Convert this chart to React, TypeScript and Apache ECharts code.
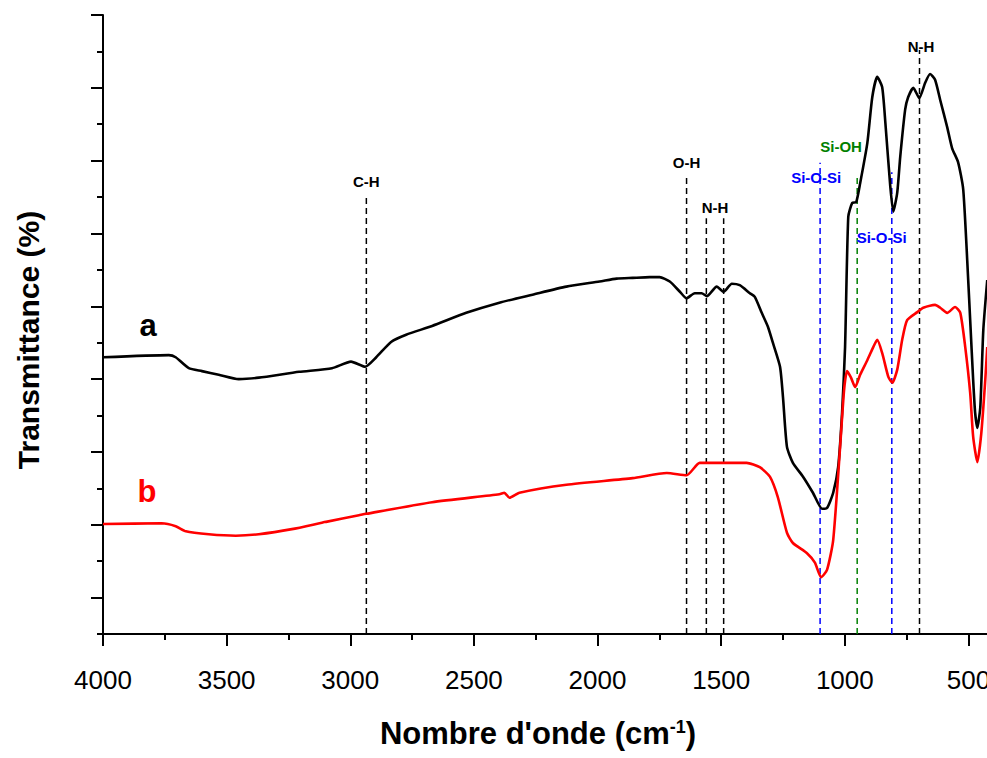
import React, { useEffect, useRef } from "react";
import * as echarts from "echarts";

// ---------- data ----------
// [wavenumber (cm-1), transmittance (arbitrary %)]
const curveA: [number, number][] = [
  [4000, 38.0], [3734, 38.3], [3706, 38.0], [3653, 36.5], [3600, 36.1], [3532, 35.6],
  [3451, 35.0], [3370, 35.2], [3207, 36.0], [3074, 36.5], [2997, 37.4], [2940, 36.7],
  [2895, 38.0], [2835, 40.1], [2774, 41.1], [2669, 42.3], [2531, 44.1], [2397, 45.5],
  [2263, 46.6], [2126, 47.7], [1992, 48.4], [1923, 48.8], [1858, 48.9], [1789, 49.0],
  [1749, 49.0], [1708, 48.4], [1667, 47.0], [1640, 46.1], [1607, 46.8], [1579, 46.8],
  [1558, 46.4], [1518, 47.7], [1490, 47.0], [1457, 48.1], [1425, 47.9], [1384, 46.8],
  [1364, 46.3], [1336, 44.1], [1311, 42.2], [1291, 40.0], [1262, 36.7], [1250, 32.5],
  [1234, 25.7], [1210, 23.5], [1169, 21.6], [1129, 19.4], [1092, 17.2], [1072, 17.3],
  [1047, 19.4], [1027, 22.9], [1011, 30.4], [999, 39.4], [986, 57.3], [970, 59.2],
  [954, 59.3], [938, 61.9], [909, 67.4], [889, 73.7], [869, 76.5], [849, 75.1],
  [836, 70.2], [816, 61.4], [804, 58.0], [788, 60.6], [776, 65.5], [756, 72.0],
  [744, 73.7], [723, 75.0], [699, 73.6], [675, 75.7], [655, 76.9], [635, 76.1],
  [614, 73.3], [586, 69.6], [566, 66.7], [542, 64.8], [521, 61.0], [501, 48.6],
  [493, 43.1], [481, 34.9], [473, 30.4], [464, 28.3], [452, 31.2], [440, 41.7],
  [424, 48.6],
];

const curveB: [number, number][] = [
  [4000, 15.1], [3763, 15.2], [3706, 14.8], [3665, 14.1], [3572, 13.7], [3463, 13.5],
  [3370, 13.7], [3236, 14.4], [3098, 15.4], [2965, 16.3], [2936, 16.5], [2669, 18.1],
  [2397, 19.2], [2377, 19.4], [2356, 18.7], [2316, 19.4], [2126, 20.5], [1858, 21.4],
  [1720, 22.1], [1640, 21.8], [1587, 23.5], [1575, 23.5], [1494, 23.5], [1397, 23.5],
  [1344, 22.9], [1303, 21.6], [1271, 18.8], [1234, 13.9], [1210, 12.5], [1153, 11.1],
  [1121, 9.8], [1096, 7.8], [1072, 8.8], [1047, 12.9], [1019, 25.7], [1003, 33.5],
  [991, 36.1], [975, 35.2], [958, 33.9], [938, 35.6], [909, 37.6], [885, 39.4],
  [869, 40.4], [849, 38.6], [824, 35.3], [808, 34.5], [788, 36.3], [768, 40.4],
  [748, 43.1], [707, 44.2], [683, 44.8], [635, 45.2], [614, 44.8], [586, 44.1],
  [554, 44.9], [533, 44.1], [513, 39.4], [493, 33.1], [481, 27.1], [464, 23.6],
  [448, 27.6], [432, 34.9], [424, 39.4],
];

// vibration bands: wavenumber, top of the dashed marker, group
const bandWavenumbers = [2935, 1640, 1560, 1490, 1100, 950, 810, 698];
const bandTops = [60.3, 62.6, 57.1, 57.1, 64.7, 62.7, 63.4, 80.2];
const bandGroups = ["ch", "oh", "nh", "nh", "sios", "sioh", "sios", "nh"];

// band annotations: text, wavenumber, transmittance, group
const bandLabelTexts = ["C-H", "O-H", "N-H", "Si-O-Si", "Si-OH", "Si-O-Si", "N-H"];
const bandLabelX = [2935, 1640, 1525, 1116, 1015, 851, 692];
const bandLabelY = [62.2, 64.7, 58.6, 62.7, 66.9, 54.5, 80.7];
const bandLabelGroups = ["ch", "oh", "nh", "sios", "sioh", "sios", "nh"];

// sample labels
const sampleNames = ["a", "b"];
const sampleLabelX = [3818, 3822];
const sampleLabelY = [42.4, 19.5];

// axis ticks
const xMajorTicks = [500, 1000, 1500, 2000, 2500, 3000, 3500, 4000];
const xMinorTicks = [750, 1250, 1750, 2250, 2750, 3250, 3750];
const yMajorTicks = [5, 15, 25, 35, 45, 55, 65, 75, 85];
const yMinorTicks = [0, 10, 20, 30, 40, 50, 60, 70, 80];

// ---------- styles ----------
const FONT = "'Liberation Sans', Arial, Helvetica, sans-serif";
const groupColor: Record<string, string> = {
  ch: "#000000",
  oh: "#000000",
  nh: "#000000",
  sios: "#0000ff",
  sioh: "#008000",
};
const sampleColor = ["#000000", "#ff0000"];

export default function App() {
  const ref = useRef<HTMLDivElement>(null);

  useEffect(() => {
    document.body.style.margin = "0";
    if (!ref.current) return;
    const chart = echarts.init(ref.current, undefined, { renderer: "svg" });

    const axisCommon = {
      type: "value" as const,
      splitLine: { show: false },
    };

    const bandSeries = bandWavenumbers.map((w, i) => ({
      type: "line",
      xAxisIndex: 0,
      yAxisIndex: 0,
      symbol: "none",
      silent: true,
      z: 1,
      lineStyle: { color: groupColor[bandGroups[i]], width: 1.5, type: [6, 4] },
      data: [
        [w, 0],
        [w, bandTops[i]],
      ],
    }));

    const option: any = {
      animation: false,
      grid: {
        left: 103,
        right: 0,
        top: 15,
        bottom: 124,
        containLabel: false,
        outerBoundsMode: "none",
      },
      xAxis: [
        {
          ...axisCommon,
          min: 425,
          max: 4000,
          inverse: true,
          position: "bottom",
          axisLine: { show: true, onZero: false, lineStyle: { color: "#000", width: 2 } },
          axisTick: {
            show: true,
            customValues: xMajorTicks,
            length: 12,
            lineStyle: { color: "#000", width: 2 },
          },
          axisLabel: {
            show: true,
            customValues: xMajorTicks,
            margin: 33,
            fontSize: 26,
            color: "#000",
            fontFamily: FONT,
            formatter: (v: number) => String(v),
          },
        },
        {
          ...axisCommon,
          min: 425,
          max: 4000,
          inverse: true,
          position: "bottom",
          axisLine: { show: false, onZero: false },
          axisTick: {
            show: true,
            customValues: xMinorTicks,
            length: 6,
            lineStyle: { color: "#000", width: 2 },
          },
          axisLabel: { show: false },
        },
      ],
      yAxis: [
        {
          ...axisCommon,
          min: 0,
          max: 85,
          position: "left",
          axisLine: { show: true, onZero: false, lineStyle: { color: "#000", width: 2 } },
          axisTick: {
            show: true,
            customValues: yMajorTicks,
            length: 12,
            lineStyle: { color: "#000", width: 2 },
          },
          axisLabel: { show: false },
        },
        {
          ...axisCommon,
          min: 0,
          max: 85,
          position: "left",
          offset: 0,
          axisLine: { show: false, onZero: false },
          axisTick: {
            show: true,
            customValues: yMinorTicks,
            length: 6,
            lineStyle: { color: "#000", width: 2 },
          },
          axisLabel: { show: false },
        },
      ],
      series: [
        ...bandSeries,
        {
          type: "line",
          name: "a",
          xAxisIndex: 0,
          yAxisIndex: 0,
          symbol: "none",
          smooth: 0.2,
          z: 3,
          lineStyle: { color: sampleColor[0], width: 2.6 },
          data: curveA,
        },
        {
          type: "line",
          name: "b",
          xAxisIndex: 0,
          yAxisIndex: 0,
          symbol: "none",
          smooth: 0.2,
          z: 3,
          lineStyle: { color: sampleColor[1], width: 2.6 },
          data: curveB,
        },
        {
          type: "scatter",
          xAxisIndex: 0,
          yAxisIndex: 0,
          symbolSize: 0,
          silent: true,
          z: 5,
          itemStyle: { opacity: 1 },
          label: {
            show: true,
            position: "inside",
            fontFamily: FONT,
            fontWeight: "bold",
            fontSize: 15,
            opacity: 1,
            textBorderWidth: 0,
            textBorderColor: "transparent",
          },
          data: [
            ...bandLabelTexts.map((t, i) => ({
              value: [bandLabelX[i], bandLabelY[i]],
              label: { formatter: t, color: groupColor[bandLabelGroups[i]] },
            })),
            ...sampleNames.map((t, i) => ({
              value: [sampleLabelX[i], sampleLabelY[i]],
              label: { formatter: t, color: sampleColor[i], fontSize: 31 },
            })),
          ],
        },
      ],
      graphic: [
        {
          type: "text",
          x: 28,
          y: 340,
          rotation: Math.PI / 2,
          style: {
            text: "Transmittance (%)",
            fontFamily: FONT,
            fontWeight: "bold",
            fontSize: 30,
            fill: "#000",
            textAlign: "center",
            textVerticalAlign: "middle",
          },
        },
        {
          type: "text",
          x: 538,
          y: 733,
          style: {
            text: "{t|Nombre d'onde (cm}{s|-1}{t|)}",
            fontFamily: FONT,
            fontWeight: "bold",
            fill: "#000",
            textAlign: "center",
            textVerticalAlign: "middle",
            rich: {
              t: { fontSize: 31, fontFamily: FONT, fontWeight: "bold", fill: "#000" },
              s: {
                fontSize: 18,
                fontFamily: FONT,
                fontWeight: "bold",
                fill: "#000",
                verticalAlign: "top",
              },
            },
          },
        },
      ],
    };

    chart.setOption(option);
    return () => chart.dispose();
  }, []);

  return <div ref={ref} style={{ width: 987, height: 758 }} />;
}
